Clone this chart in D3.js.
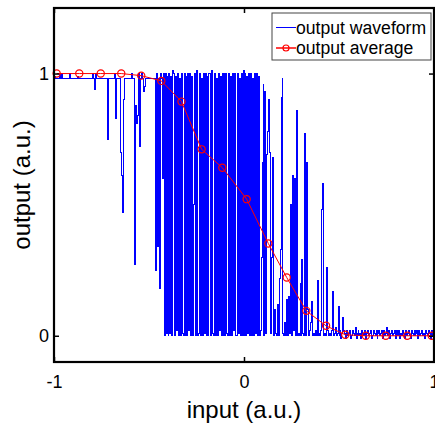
<!DOCTYPE html>
<html>
<head>
<meta charset="utf-8">
<script src="https://cdn.jsdelivr.net/npm/d3@7"></script>
<style>
body { margin: 0; background: #fff; }
svg { display: block; font-family: 'Liberation Sans', Arial, sans-serif; }
</style>
</head>
<body>
<svg width="435" height="425"></svg>
<script>
var svg = d3.select('svg');

// waveform samples, one every 0.005 of input from -1 to 1 (20 per row)
var waveStart = -1;
var waveStep = 0.005;
var waveform = [
    0.98,0.99,0.98,0.98,0.98,0.98,1.0,0.98,1.0,0.98,0.98,0.98,0.98,0.98,0.98,0.98,1.0,0.98,0.98,0.98,
    0.98,0.98,0.98,0.98,0.98,0.99,0.98,0.98,0.98,0.98,0.98,0.98,0.98,0.98,0.98,0.98,0.98,0.98,0.98,0.98,
    0.98,1.0,0.98,0.94,1.0,0.98,0.98,0.98,0.98,0.98,0.98,0.98,0.98,0.98,0.98,0.98,0.75,0.98,0.98,0.98,
    0.98,0.98,0.98,0.98,1.0,0.83,0.98,0.98,0.98,0.98,0.7,0.61,0.47,0.9,0.98,0.98,0.98,0.98,0.98,0.98,
    0.98,0.98,1.0,0.98,0.98,0.27,0.88,0.81,0.84,1.0,0.72,0.98,1.0,0.98,0.93,0.95,0.98,0.98,0.98,0.98,
    0.98,0.98,0.98,0.98,0.98,0.98,0.98,0.25,1.0,0.34,0.98,0.18,1.0,0.98,0.6,1.0,0.0,1.0,0.01,0.99,
    0.0,1.0,0.01,0.99,0.0,1.01,1.0,0.0,0.99,0.02,1.0,0.0,0.98,0.0,1.0,0.01,0.0,1.0,0.0,0.99,
    0.0,1.0,0.02,1.0,0.0,0.99,0.0,0.5,1.0,0.0,1.01,0.0,0.01,1.0,0.0,0.98,0.0,1.0,0.01,1.0,
    0.0,0.99,0.0,1.0,1.0,0.0,1.01,0.01,0.0,1.0,0.0,0.98,0.0,1.0,0.02,0.99,0.0,1.0,0.0,1.0,
    0.0,1.0,0.01,0.0,1.0,0.0,0.99,0.0,1.0,0.02,1.0,0.0,0.0,1.0,0.01,0.98,0.0,1.0,0.0,1.01,
    0.0,1.0,0.0,0.99,0.01,1.0,0.0,1.0,0.0,0.98,0.0,1.0,0.01,1.0,0.0,0.99,0.0,0.02,0.3,0.66,
    0.96,0.0,0.93,0.01,0.69,0.78,0.9,0.7,0.01,0.3,0.68,0.0,0.1,0.01,0.0,0.12,0.0,0.22,0.33,0.91,
    0.98,0.01,0.0,0.05,0.0,0.14,0.0,0.15,0.01,0.5,0.0,0.61,0.02,0.6,0.0,0.86,0.0,0.01,0.0,0.2,
    0.0,0.29,0.01,0.0,0.77,0.0,0.66,0.1,0.0,0.02,0.05,0.13,0.0,0.01,0.0,0.02,0.0,0.21,0.0,0.01,
    0.0,0.02,0.48,0.58,0.0,0.01,0.0,0.26,0.02,0.0,0.01,0.0,0.02,0.17,0.0,0.01,0.03,0.0,0.01,0.11,
    0.0,0.02,-0.01,0.01,0.07,0.02,0.01,-0.01,0.02,0.0,0.01,0.02,-0.01,0.0,0.02,0.01,0.0,0.03,-0.01,0.01,
    0.02,0.0,0.01,-0.01,0.02,0.01,0.0,0.02,-0.01,0.01,0.02,0.0,0.01,0.02,-0.01,0.0,0.02,0.01,0.0,0.02,
    -0.01,0.01,0.02,0.0,0.01,0.02,-0.01,0.02,0.0,0.01,0.03,0.0,0.02,-0.01,0.01,0.02,0.0,0.01,0.02,-0.01,
    0.01,0.02,0.0,0.02,-0.01,0.01,0.0,0.02,0.01,-0.01,0.02,0.0,0.01,0.02,0.0,-0.01,0.02,0.01,0.0,0.02,
    0.0,0.01,0.02,-0.01,0.02,0.0,0.01,0.02,0.0,0.01,-0.01,0.02,0.01,0.0,0.02,0.01,-0.01,0.02,0.0,0.01,
    0.0
];

// averaged output (red markers)
var avgInput = [-0.986, -0.867, -0.754, -0.646, -0.541, -0.435, -0.329, -0.223, -0.114, 0.014,
                0.128, 0.225, 0.328, 0.432, 0.533, 0.641, 0.746, 0.859, 0.988];
var avgOutput = [1.0, 1.0, 1.0, 1.0, 0.992, 0.972, 0.893, 0.711, 0.641, 0.521,
                 0.352, 0.222, 0.095, 0.038, 0.004, 0, 0, 0, 0];

var xTicks = [-1, 0, 1];
var yTicks = [0, 1];
var legendLabels = ['output waveform', 'output average'];

// plot box in pixels
var box = {l: 54, r: 434, t: 8, b: 362};

var xScale = d3.scaleLinear().domain([-1, 1]).range([box.l, box.r]);
var yScale = d3.scaleLinear().domain([-0.1, 1.25]).range([box.b, box.t]);

// blue waveform, drawn as a sampled (step) signal so each sample is a vertical stroke
var waveLine = d3.line()
    .curve(d3.curveStepAfter)
    .x(function(d, i) { return xScale(waveStart + i * waveStep); })
    .y(function(d) { return yScale(d); });

svg.append('path')
    .datum(waveform)
    .attr('d', waveLine)
    .attr('fill', 'none')
    .attr('stroke', '#0000ff')
    .attr('stroke-width', 1)
    .attr('shape-rendering', 'crispEdges');

// red average with open circles
var avgData = avgInput.map(function(x, i) { return {x: x, y: avgOutput[i]}; });

svg.append('path')
    .datum(avgData)
    .attr('d', d3.line()
        .x(function(d) { return xScale(d.x); })
        .y(function(d) { return yScale(d.y); }))
    .attr('fill', 'none')
    .attr('stroke', '#ff0000')
    .attr('stroke-width', 1);

svg.selectAll('.avg-dot')
    .data(avgData)
    .enter()
    .append('circle')
    .attr('class', 'avg-dot')
    .attr('cx', function(d) { return xScale(d.x); })
    .attr('cy', function(d) { return yScale(d.y); })
    .attr('r', 3.6)
    .attr('fill', 'none')
    .attr('stroke', '#ff0000')
    .attr('stroke-width', 1.2);

// axes, ticks point inwards on all four sides
function styleAxis(g) {
    g.select('.domain').remove();
    g.selectAll('line').attr('stroke', '#000').attr('stroke-width', 1.5);
    g.selectAll('text')
        .attr('fill', '#000')
        .attr('font-size', 18)
        .attr('font-family', "'Liberation Sans', Arial, sans-serif");
}

var plainFormat = function(d) { return String(d); };

svg.append('g')
    .attr('transform', 'translate(0,' + box.b + ')')
    .call(d3.axisBottom(xScale).tickValues(xTicks).tickFormat(plainFormat)
        .tickSizeInner(-5).tickSizeOuter(0).tickPadding(13))
    .call(styleAxis);

svg.append('g')
    .attr('transform', 'translate(0,' + box.t + ')')
    .call(d3.axisTop(xScale).tickValues(xTicks).tickFormat('')
        .tickSizeInner(-5).tickSizeOuter(0))
    .call(styleAxis);

svg.append('g')
    .attr('transform', 'translate(' + box.l + ',0)')
    .call(d3.axisLeft(yScale).tickValues(yTicks).tickFormat(plainFormat)
        .tickSizeInner(-5).tickSizeOuter(0).tickPadding(5))
    .call(styleAxis);

svg.append('g')
    .attr('transform', 'translate(' + box.r + ',0)')
    .call(d3.axisRight(yScale).tickValues(yTicks).tickFormat('')
        .tickSizeInner(-5).tickSizeOuter(0))
    .call(styleAxis);

svg.append('rect')
    .attr('x', box.l)
    .attr('y', box.t)
    .attr('width', box.r - box.l)
    .attr('height', box.b - box.t)
    .attr('fill', 'none')
    .attr('stroke', '#000')
    .attr('stroke-width', 2.2);

// axis titles
svg.append('text')
    .attr('x', (box.l + box.r) / 2)
    .attr('y', 418)
    .attr('text-anchor', 'middle')
    .attr('font-size', 24)
    .text('input (a.u.)');

svg.append('text')
    .attr('transform', 'translate(30,' + ((box.t + box.b) / 2) + ') rotate(-90)')
    .attr('text-anchor', 'middle')
    .attr('font-size', 24)
    .text('output (a.u.)');

// legend
var legend = svg.append('g').attr('transform', 'translate(272,13)');

legend.append('rect')
    .attr('width', 159)
    .attr('height', 47)
    .attr('fill', '#fff')
    .attr('stroke', '#444')
    .attr('stroke-width', 1);

legend.append('line')
    .attr('x1', 4).attr('x2', 24)
    .attr('y1', 14.5).attr('y2', 14.5)
    .attr('stroke', '#0000ff')
    .attr('stroke-width', 1);

legend.append('line')
    .attr('x1', 4).attr('x2', 24)
    .attr('y1', 35).attr('y2', 35)
    .attr('stroke', '#ff0000')
    .attr('stroke-width', 1.5);

legend.append('circle')
    .attr('cx', 14).attr('cy', 35).attr('r', 3)
    .attr('fill', 'none')
    .attr('stroke', '#ff0000')
    .attr('stroke-width', 1.2);

legend.selectAll('.legend-label')
    .data(legendLabels)
    .enter()
    .append('text')
    .attr('class', 'legend-label')
    .attr('x', 24)
    .attr('y', function(d, i) { return 20.5 + i * 20.8; })
    .attr('font-size', 17.6)
    .text(function(d) { return d; });
</script>
</body>
</html>
